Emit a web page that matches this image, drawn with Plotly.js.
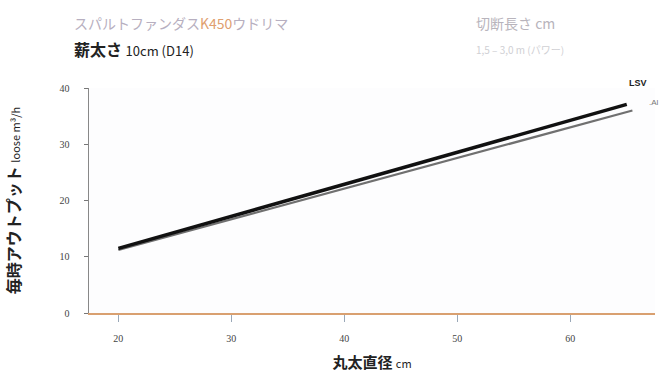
<!DOCTYPE html>
<html>
<head>
<meta charset="utf-8">
<script src="https://cdn.plot.ly/plotly-3.0.1.min.js"></script>
<style>html,body{margin:0;padding:0;background:#fff;}#chart{width:663px;height:378px;}</style>
</head>
<body>
<div id="chart"></div>
<script>
// Data
const diameterLSV = [20, 65];
const outputLSV = [11.5, 37.1];
const diameterJet = [20, 65.5];
const outputJet = [11.2, 36.0];
const seriesNames = ["LSV", ".Al"];
const xTickVals = [20, 30, 40, 50, 60];
const yTickVals = [0, 10, 20, 30, 40];

const jp = '"Noto Sans CJK JP", "Noto Sans", sans-serif';

const traces = [
  {x: diameterJet, y: outputJet, mode: 'lines', name: seriesNames[1],
   line: {color: '#707070', width: 2.2}, hoverinfo: 'skip'},
  {x: diameterLSV, y: outputLSV, mode: 'lines', name: seriesNames[0],
   line: {color: '#111111', width: 3.5}, hoverinfo: 'skip'}
];

const layout = {
  width: 663, height: 378,
  margin: {l: 89, r: 8, t: 88, b: 65},
  paper_bgcolor: '#ffffff',
  plot_bgcolor: '#fdfdfe',
  showlegend: false,
  font: {family: jp, color: '#333'},
  xaxis: {
    range: [17.4, 67.5],
    tickvals: xTickVals,
    ticks: 'outside', ticklen: 7, tickcolor: '#9aa8b8',
    ticklabelstandoff: 8,
    tickfont: {size: 10, color: '#444', family: 'Liberation Serif, serif'},
    showgrid: false, zeroline: false,
    showline: true, linecolor: '#d9a070', linewidth: 2,
    title: {text: '<b>丸太直径</b> <span style="font-size:11px">cm</span>', font: {size: 15, color: '#222', family: jp}, standoff: 14}
  },
  yaxis: {
    range: [0, 40],
    tickvals: yTickVals,
    ticks: 'outside', ticklen: 4, tickcolor: '#777',
    ticklabelstandoff: 12,
    tickfont: {size: 10, color: '#444', family: 'Liberation Serif, serif'},
    showgrid: false, zeroline: false,
    showline: true, linecolor: '#888', linewidth: 1.5,
    title: {text: '<b>毎時アウトプット</b> <span style="font-size:11px">loose m³/h</span>', font: {size: 16, color: '#222', family: jp}, standoff: 35}
  },
  annotations: [
    {xref: 'paper', yref: 'paper', x: -0.03, y: 1.29, xanchor: 'left', yanchor: 'middle',
     text: 'スパルトファンダス<span style="color:#e0a070">K450</span>ウドリマ', showarrow: false,
     font: {size: 14, color: '#b7afc0', family: jp}},
    {xref: 'paper', yref: 'paper', x: 0.68, y: 1.29, xanchor: 'left', yanchor: 'middle',
     text: '切断長さ cm', showarrow: false,
     font: {size: 14, color: '#b8b4bc', family: jp}},
    {xref: 'paper', yref: 'paper', x: 0.68, y: 1.17, xanchor: 'left', yanchor: 'middle',
     text: '1,5 – 3,0 m (パワー)', showarrow: false,
     font: {size: 10, color: '#d0d0d4', family: jp}},
    {xref: 'paper', yref: 'paper', x: -0.03, y: 1.175, xanchor: 'left', yanchor: 'middle',
     text: '<b>薪太さ</b> <span style="font-size:13px">10cm (D14)</span>', showarrow: false,
     font: {size: 16, color: '#222', family: jp}},
    {x: diameterLSV[1], y: 39.6, xref: 'x', yref: 'y', xanchor: 'left', yanchor: 'bottom', text: '<b>' + seriesNames[0] + '</b>',
     showarrow: false, font: {size: 9, color: '#222', family: 'Liberation Sans, sans-serif'}, bgcolor: '#ffffff'},
    {x: diameterJet[1] + 1.3, y: 37.4, xref: 'x', yref: 'y', xanchor: 'left', text: seriesNames[1],
     showarrow: false, font: {size: 8, color: '#777', family: 'Liberation Sans, sans-serif'}}
  ]
};

Plotly.newPlot('chart', traces, layout, {displayModeBar: false, staticPlot: true});
</script>
</body>
</html>
